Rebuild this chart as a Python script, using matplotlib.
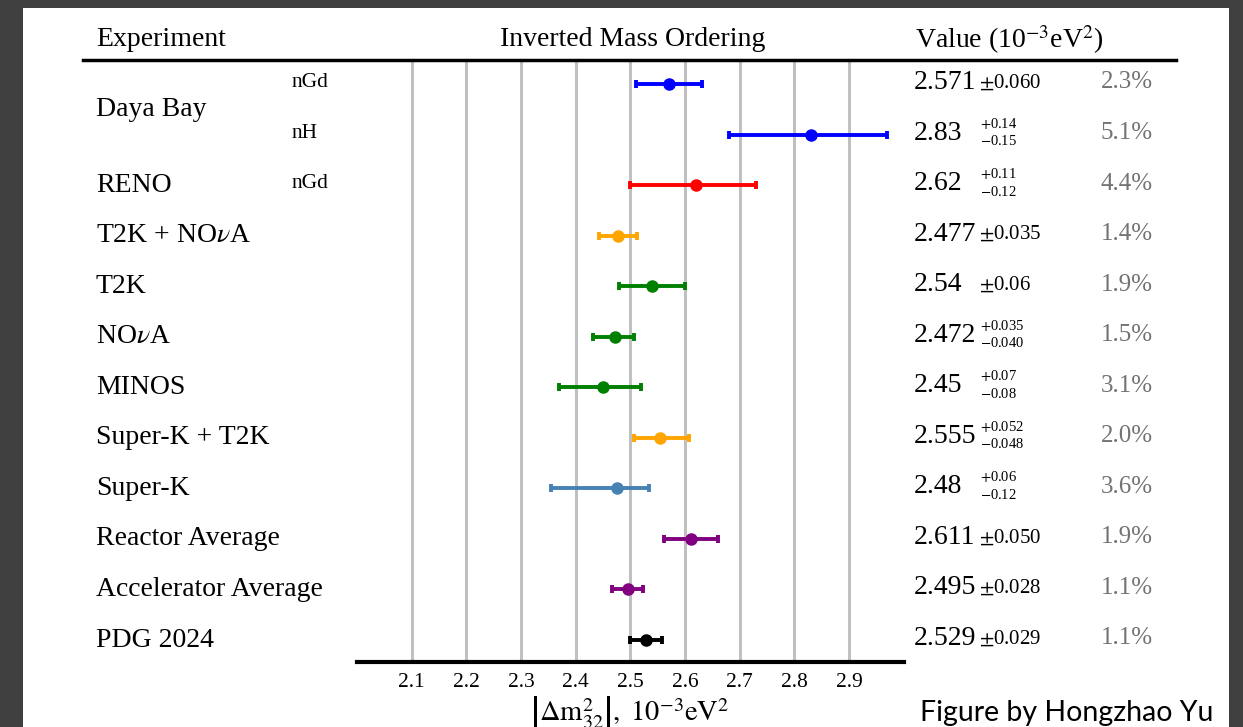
import matplotlib
matplotlib.use('Agg')
import matplotlib.pyplot as plt
from matplotlib.lines import Line2D
from matplotlib.patches import Rectangle
from matplotlib.transforms import blended_transform_factory

plt.rcParams['font.family'] = 'Liberation Serif'
plt.rcParams['mathtext.fontset'] = 'stix'

# ---------------- data ----------------
exp_names  = ['Daya Bay', 'RENO', 'T2K + NO$\\nu$A', 'T2K', 'NO$\\nu$A', 'MINOS',
              'Super-K + T2K', 'Super-K', 'Reactor Average', 'Accelerator Average', 'PDG 2024']
name_rows  = [0.5, 2, 3, 4, 5, 6, 7, 8, 9, 10, 11]
sub_labels = ['nGd', 'nH', 'nGd', '', '', '', '', '', '', '', '', '']
central    = [2.571, 2.83, 2.62, 2.477, 2.54, 2.472, 2.45, 2.555, 2.475, 2.611, 2.495, 2.529]
err_plus   = [0.060, 0.14, 0.11, 0.035, 0.06, 0.035, 0.07, 0.052, 0.06, 0.050, 0.028, 0.029]
err_minus  = [0.060, 0.15, 0.12, 0.035, 0.06, 0.040, 0.08, 0.048, 0.12, 0.050, 0.028, 0.029]
value_txt  = ['2.571', '2.83', '2.62', '2.477', '2.54', '2.472', '2.45', '2.555', '2.48',
              '2.611', '2.495', '2.529']
plus_txt   = ['0.060', '0.14', '0.11', '0.035', '0.06', '0.035', '0.07', '0.052', '0.06',
              '0.050', '0.028', '0.029']
minus_txt  = ['0.060', '0.15', '0.12', '0.035', '0.06', '0.040', '0.08', '0.048', '0.12',
              '0.050', '0.028', '0.029']
percent    = ['2.3%', '5.1%', '4.4%', '1.4%', '1.9%', '1.5%', '3.1%', '2.0%', '3.6%',
              '1.9%', '1.1%', '1.1%']
colours    = ['blue', 'blue', 'red', 'orange', 'green', 'green', 'green', 'orange',
              'steelblue', 'purple', 'purple', 'black']
xticks     = [2.1, 2.2, 2.3, 2.4, 2.5, 2.6, 2.7, 2.8, 2.9]

W, H = 1243, 727
fig = plt.figure(figsize=(W/100., H/100.), dpi=100, facecolor='#404040')
# white page inside the dark frame
fig.patches.append(Rectangle((23./W, 0.), (1229.-23.)/W, (H-8.)/H, transform=fig.transFigure,
                             facecolor='white', edgecolor='none', zorder=-10))

ax = fig.add_axes([357./W, 1-662./H, 546.6/W, 602./H])  # left, bottom, width, height
ax.set_zorder(2)
ax.set_facecolor('none')
ax.set_xlim(2.0, 3.0)
ax.set_ylim(11.435, -0.475)
for s in ['left', 'right', 'top']:
    ax.spines[s].set_visible(False)
ax.spines['bottom'].set_linewidth(3)
ax.set_yticks([])
ax.set_xticks(xticks)
ax.set_xticklabels([str(t) for t in xticks])
ax.tick_params(axis='x', length=0, pad=8, labelsize=15.5)
ax.grid(axis='x', color='#c0c0c0', linewidth=2.2)
ax.set_axisbelow(True)

for i in range(len(central)):
    ax.errorbar(central[i], i, xerr=[[err_minus[i]], [err_plus[i]]], fmt='o', color=colours[i],
                ms=8, lw=2.8, capsize=3, capthick=2.8, zorder=3)

trans = blended_transform_factory(fig.transFigure, ax.transData)

for nm, yy in zip(exp_names, name_rows):
    ax.text(96./W, yy, nm, transform=trans, fontsize=20, va='center', ha='left', clip_on=False)

for i in range(len(central)):
    if sub_labels[i] != '':
        ax.text(292./W, i - 0.03, sub_labels[i], transform=trans, fontsize=15.5, va='center',
                ha='left')
    ax.text(914./W, i - 0.03, value_txt[i], transform=trans, fontsize=20, va='center', ha='left')
    if plus_txt[i] == minus_txt[i]:
        ax.text(979./W, i - 0.03, '$\\pm$' + plus_txt[i], transform=trans, fontsize=15,
                va='center', ha='left')
    else:
        ax.text(980./W, i - 0.08, '$+$' + plus_txt[i], transform=trans, fontsize=10.5,
                va='bottom', ha='left')
        ax.text(980./W, i + 0.10, '$-$' + minus_txt[i], transform=trans, fontsize=10.5,
                va='center_baseline', ha='left')
    ax.text(1153./W, i - 0.03, percent[i], transform=trans, fontsize=18, va='center', ha='right',
            color='#737373')

# header
hy = 1 - 40./H
fig.text(96./W, hy, 'Experiment', fontsize=20, va='center', ha='left')
fig.text(633./W, hy, 'Inverted Mass Ordering', fontsize=20, va='center', ha='center')
fig.text(915./W, hy, 'Value (10$^{-3}$eV$^{2}$)', fontsize=20, va='center', ha='left')
fig.lines.append(Line2D([83./W, 1176./W], [1-60./H, 1-60./H], transform=fig.transFigure,
                        color='black', linewidth=2.5))

# x label, sitting low at the bottom edge like the original
fig.text(630./W, 6./H, '$\\left|\\Delta \\mathrm{m}^2_{32}\\right|,\\ 10^{-3}\\mathrm{eV}^2$',
         fontsize=20.5, va='baseline', ha='center')

fig.text(920./W, 1-713./H, 'Figure by Hongzhao Yu', family='Lato', fontsize=20.5,
         va='center', ha='left')

plt.savefig('out.png', dpi=100, facecolor=fig.get_facecolor())
